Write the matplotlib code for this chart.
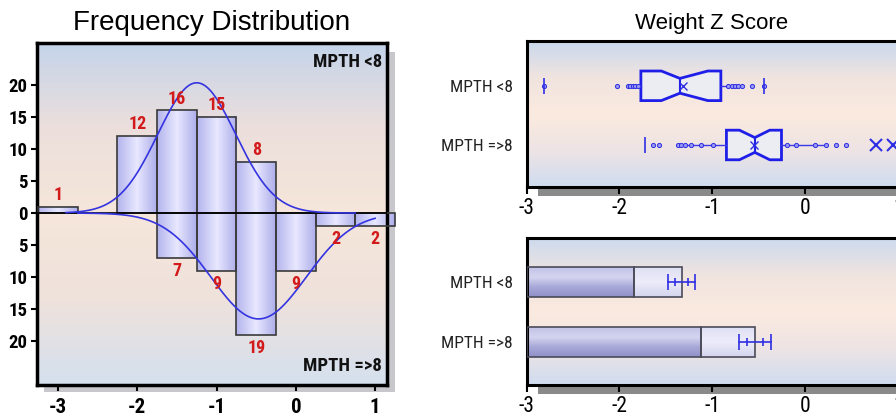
import numpy as np
import matplotlib
matplotlib.use('Agg')
import matplotlib.pyplot as plt
from matplotlib import font_manager
from matplotlib.colors import LinearSegmentedColormap
from matplotlib.patches import Rectangle

# === Data: frequency distribution (bins of 0.5) ===
bin_centers = [-3, -2.5, -2, -1.5, -1, -0.5, 0, 0.5, 1]
counts_lt8 = [1, 0, 12, 16, 15, 8, 0, 0, 0]     # drawn upward
counts_ge8 = [0, 0, 0, 7, 9, 19, 9, 2, 2]       # drawn downward
bin_width = 0.5

# fitted normal curves: centre, sd, peak height, x from, x to
curve_lt8 = (-1.25, 0.49, 20.3, -2.9, 0.75)
curve_ge8 = (-0.47, 0.60, 16.5, -2.75, 1.0)

groups = ['MPTH <8', 'MPTH =>8']

# === Data: box plot of weight z score ===
box_q1 = [-1.77, -0.85]
box_med = [-1.35, -0.545]
box_q3 = [-0.91, -0.258]
box_cilo = [-1.55, -0.71]
box_cihi = [-1.05, -0.384]
box_mean = [-1.32, -0.556]
whisk_lo = [-1.91, -1.37]
whisk_hi = [-0.69, 0.226]
points_lt8 = [-2.81, -2.027, -1.912, -1.884, -1.858, -1.830, -1.804,
              -0.830, -0.794, -0.758, -0.723, -0.686, -0.572, -0.443]
points_ge8 = [-1.64, -1.57, -1.37, -1.34, -1.30, -1.23, -1.12, -0.99,
              -0.204, -0.097, 0.10, 0.226, 0.333, 0.44]
range_marks_lt8 = [-2.81, -0.443]
range_marks_ge8 = [-1.727]
extremes_ge8 = [0.763, 0.942]

# === Data: mean bars with intervals ===
bar_inner = [-1.839, -1.122]
bar_mean = [-1.33, -0.545]
ci_lo = [-1.473, -0.72]
ci_hi = [-1.187, -0.373]
se_lo = [-1.40, -0.631]
se_hi = [-1.258, -0.462]

# narrow font if there is one, else Arial-like and a bit smaller
installed = {f.name for f in font_manager.fontManager.ttflist}
k = 0.86
NARROW = 'Liberation Sans'
for cand in ['Roboto Condensed', 'Liberation Sans Narrow', 'Open Sans Condensed']:
    if cand in installed:
        NARROW, k = cand, 1.0
        break
plt.rcParams['font.family'] = [NARROW, 'DejaVu Sans']

W, H = 896, 419
fig = plt.figure(figsize=(W / 100, H / 100), dpi=100)
fig.patch.set_facecolor('white')


def px_rect(x0, y0, x1, y1):
    return [x0 / W, 1 - y1 / H, (x1 - x0) / W, (y1 - y0) / H]


def shadow(x0, y0, x1, y1, color):
    r = Rectangle((x0 / W, 1 - y1 / H), (x1 - x0) / W, (y1 - y0) / H,
                  transform=fig.transFigure, facecolor=color, edgecolor='none', zorder=-1)
    fig.add_artist(r)


def background(ax, colors):
    cmap = LinearSegmentedColormap.from_list('bg', colors)
    grad = np.linspace(0, 1, 256).reshape(-1, 1)
    ax.imshow(grad, extent=[0, 1, 0, 1], transform=ax.transAxes, cmap=cmap,
              aspect='auto', origin='upper', zorder=0)


blue = '#2f2fe4'
bar_cmap = LinearSegmentedColormap.from_list('bar', ['#b4b4ee', '#e8e8ff', '#aeaeea'])
dark_cmap = LinearSegmentedColormap.from_list('dk', ['#c2c2e6', '#d4d4f0', '#a8a8d8', '#9090c8'])
light_cmap = LinearSegmentedColormap.from_list('lt', ['#e0e0f4', '#ececfa', '#d4d4ee'])

# ---------------- left: frequency distribution ----------------
shadow(44, 52, 395, 392, '#c8c8cc')
ax1 = fig.add_axes(px_rect(37, 43, 387, 385))
background(ax1, ['#c4d4ea', '#ecdfdc', '#f6e6da', '#efe2dc', '#d4e0ee'])

hgrad = np.linspace(0, 1, 64).reshape(1, -1)
for xc, c_up, c_dn in zip(bin_centers, counts_lt8, counts_ge8):
    x0, x1 = xc - bin_width / 2, xc + bin_width / 2
    if c_up > 0:
        im = ax1.imshow(hgrad, extent=[x0, x1, 0, c_up], cmap=bar_cmap, aspect='auto', zorder=2)
        im.set_clip_on(False)
        ax1.bar(xc, c_up, width=bin_width, fill=False, edgecolor='#3a3a3a', lw=1.2, zorder=3, clip_on=False)
        ax1.text(xc, c_up + 0.4, str(c_up), ha='center', va='bottom', color='#d21a1a',
                 fontsize=13 * k, fontweight='bold', zorder=5)
    if c_dn > 0:
        im = ax1.imshow(hgrad, extent=[x0, x1, -c_dn, 0], cmap=bar_cmap, aspect='auto', zorder=2)
        im.set_clip_on(False)
        ax1.bar(xc, -c_dn, width=bin_width, fill=False, edgecolor='#3a3a3a', lw=1.2, zorder=3, clip_on=False)
        ax1.text(xc, -c_dn - 0.7, str(c_dn), ha='center', va='top', color='#d21a1a',
                 fontsize=13 * k, fontweight='bold', zorder=5)

ax1.axhline(0, color='black', lw=1.2, zorder=3)

for (mu, sd, peak, xa, xb), sign in [(curve_lt8, 1), (curve_ge8, -1)]:
    xs = np.linspace(xa, xb, 300)
    ys = sign * peak * np.exp(-0.5 * ((xs - mu) / sd) ** 2)
    ax1.plot(xs, ys, color='#3434e0', lw=1.2, zorder=4)

ax1.text(0.985, 0.972, 'MPTH <8', transform=ax1.transAxes, ha='right', va='top',
         fontsize=13.5 * k, fontweight='bold', color='#111111')
ax1.text(0.985, 0.03, 'MPTH =>8', transform=ax1.transAxes, ha='right', va='bottom',
         fontsize=13.5 * k, fontweight='bold', color='#111111')

yt = list(range(-20, 25, 5))
ax1.set_yticks(yt)
ax1.set_yticklabels([str(abs(v)) for v in yt], fontsize=13.5 * k, fontweight='bold')
ax1.set_xticks([-3, -2, -1, 0, 1])
ax1.set_xticklabels(['-3', '-2', '-1', '0', '1'], fontsize=15 * k, fontweight='bold')
ax1.tick_params(direction='out', length=4, width=1.5, pad=3)
ax1.tick_params(axis='x', pad=5)
ax1.set_xlim(-3.265, 1.15)
ax1.set_ylim(-26.8, 26.5)
for s in ax1.spines.values():
    s.set_linewidth(2.5)
ax1.set_title('Frequency Distribution', fontsize=20, family='Liberation Sans', pad=9)

# ---------------- right top: box plot ----------------
shadow(538, 52, 920, 196, '#8a8a8a')
ax2 = fig.add_axes(px_rect(526.5, 41, 910, 187))
background(ax2, ['#c8d8ee', '#f0e4e0', '#fbeadf', '#eee4e4', '#cfdcf0'])

positions = [2, 1]
stats = []
for i in range(2):
    stats.append(dict(med=box_med[i], q1=box_q1[i], q3=box_q3[i], whislo=whisk_lo[i],
                      whishi=whisk_hi[i], cilo=box_cilo[i], cihi=box_cihi[i],
                      mean=box_mean[i], fliers=[]))
ax2.bxp(stats, positions=positions, vert=False, shownotches=True, widths=0.5, patch_artist=True,
        showcaps=False, showfliers=False, showmeans=True,
        boxprops=dict(facecolor='#ececf3', edgecolor='#1e1ee8', linewidth=2),
        medianprops=dict(color='#1e1ee8', linewidth=1.5),
        whiskerprops=dict(color='#3a3ae6', linewidth=1),
        meanprops=dict(marker='x', markeredgecolor=blue, markersize=6, markeredgewidth=1),
        zorder=3)
for pts, pos in [(points_lt8, 2), (points_ge8, 1)]:
    ax2.plot(pts, [pos] * len(pts), 'o', ms=3, mfc='#9a9af2', mec=blue, mew=0.7, zorder=4)
ax2.plot(range_marks_lt8, [2] * len(range_marks_lt8), '|', ms=11, mew=1.2, color=blue, zorder=4)
ax2.plot(range_marks_ge8, [1] * len(range_marks_ge8), '|', ms=11, mew=1.2, color=blue, zorder=4)
ax2.plot(extremes_ge8, [1] * len(extremes_ge8), 'x', ms=9, mew=1.5, color=blue, zorder=4,
         clip_on=False)

ax2.set_xlim(-3, 1.124)
ax2.set_ylim(0.29, 2.757)
ax2.set_title('Weight Z Score', fontsize=16, family='Liberation Sans', pad=9,
              x=(712 - 526.5) / (910 - 526.5))

# ---------------- right bottom: mean bars ----------------
shadow(538, 248, 920, 394, '#8a8a8a')
ax3 = fig.add_axes(px_rect(526.5, 238, 910, 385))
background(ax3, ['#ccdaee', '#f0e4e0', '#fbeadf', '#eee4e4', '#cfdcf0'])

bh = 0.505
for i, pos in enumerate(positions):
    y0, y1 = pos - bh / 2, pos + bh / 2
    vgrad = np.linspace(0, 1, 64).reshape(-1, 1)
    ax3.imshow(vgrad, extent=[-3, bar_inner[i], y0, y1], cmap=dark_cmap, aspect='auto',
               origin='upper', zorder=2)
    ax3.imshow(vgrad, extent=[bar_inner[i], bar_mean[i], y0, y1], cmap=light_cmap,
               aspect='auto', origin='upper', zorder=2)
    ax3.barh(pos, bar_inner[i] + 3, left=-3, height=bh, fill=False, edgecolor='#4a4a58',
             lw=1.2, zorder=3)
    ax3.barh(pos, bar_mean[i] - bar_inner[i], left=bar_inner[i], height=bh, fill=False,
             edgecolor='#4a4a58', lw=1.2, zorder=3)
    ax3.plot([ci_lo[i], ci_hi[i]], [pos, pos], color=blue, lw=1.2, zorder=4)
    ax3.plot([ci_lo[i], ci_hi[i]], [pos, pos], '|', ms=12, mew=1.2, color=blue, zorder=4)
    ax3.plot([se_lo[i], se_hi[i]], [pos, pos], '|', ms=6, mew=1.2, color=blue, zorder=4)

ax3.set_xlim(-3, 1.124)
ax3.set_ylim(0.27, 2.746)

for ax in (ax2, ax3):
    ax.set_yticks(positions)
    ax.set_yticklabels(groups, fontsize=12.5 * k, color='#222222')
    ax.set_xticks([-3, -2, -1, 0, 1])
    ax.set_xticklabels(['-3', '-2', '-1', '0', '1'], fontsize=15.5 * k)
    ax.tick_params(axis='y', length=0, pad=10)
    ax.tick_params(axis='x', direction='out', length=5, width=1.5, pad=3)
    for s in ax.spines.values():
        s.set_linewidth(2.2)

fig.savefig('out.png', dpi=100)
